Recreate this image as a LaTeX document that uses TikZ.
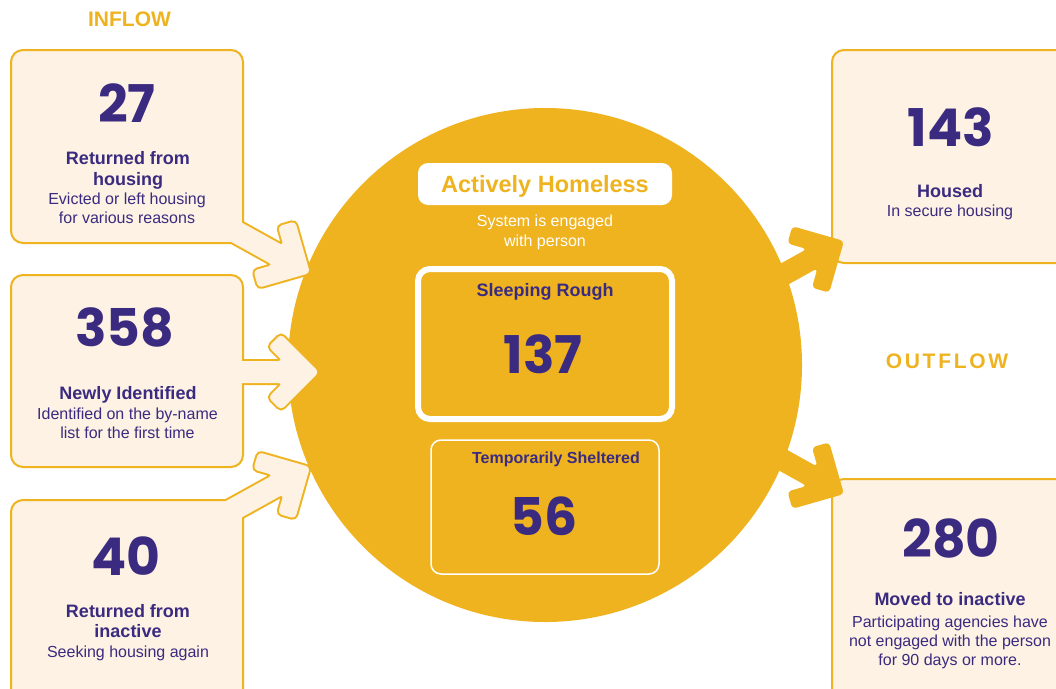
\documentclass[tikz,border=0pt]{standalone}
\usepackage{fontspec}
\setmainfont{Liberation Sans}
\newfontfamily\numfont{Poppins}
\newfontfamily\outfont{Liberation Sans}[LetterSpace=13]
\definecolor{yel}{RGB}{239,179,31}
\definecolor{cream}{RGB}{253,242,227}
\definecolor{purp}{RGB}{58,43,128}
\newcommand\chevarrow[3]{\path[#3, shift={(#1)}, rotate=#2, rounded corners=4pt]
  (-110,11) -- (-36.4,11) -- (-50.7,25.3) -- (-38,38) -- (0,0) -- (-38,-38)
  -- (-50.7,-25.3) -- (-36.4,-11) -- (-110,-11) -- cycle;}
\begin{document}
\begin{tikzpicture}[x=1pt,y=-1pt,
  txt/.style={inner sep=0pt, anchor=base, text=purp},
  num/.style={txt, font=\numfont\bfseries\fontsize{52}{52}\selectfont},
  ttl/.style={txt, font=\bfseries\fontsize{18}{18}\selectfont},
  dsc/.style={txt, font=\fontsize{16}{16}\selectfont},
  flow/.style={inner sep=0pt, anchor=base, text=yel, font=\bfseries\fontsize{21}{21}\selectfont},
  wtxt/.style={inner sep=0pt, anchor=base, text=white, font=\fontsize{16}{16}\selectfont},
  sidebox/.style={fill=cream, draw=yel, line width=2pt, rounded corners=12pt},
  inarrow/.style={fill=cream, draw=yel, line width=4pt},
  inarrowfill/.style={fill=cream},
  outarrow/.style={fill=yel},
]
\useasboundingbox (0,0) rectangle (1056,688);
\clip (0,0) rectangle (1056,688);
\fill[white] (0,0) rectangle (1056,688);

% central circle
\fill[yel] (545,365) circle[radius=257pt];

% arrow tips
\coordinate (tipA1) at (310,273);
\coordinate (tipA2) at (319,372);
\coordinate (tipA3) at (310,467);
\coordinate (tipO1) at (844,241);
\coordinate (tipO2) at (844,494);

% inflow arrows (outline)
\chevarrow{tipA1}{-29}{inarrow}
\chevarrow{tipA2}{0}{inarrow}
\chevarrow{tipA3}{29}{inarrow}

% inflow boxes
\path[sidebox] (11,50) rectangle (243,243);
\path[sidebox] (11,275) rectangle (243,467);
\path[sidebox] (11,500) rectangle (243,712);

% merge arrows with boxes
\chevarrow{tipA1}{-29}{inarrowfill}
\chevarrow{tipA2}{0}{inarrowfill}
\chevarrow{tipA3}{29}{inarrowfill}

% outflow boxes
\path[sidebox] (832,50) rectangle (1072,263);
\path[sidebox] (832,479) rectangle (1072,712);

% outflow arrows
\chevarrow{tipO1}{29}{outarrow}
\chevarrow{tipO2}{-29}{outarrow}

% headings
\node[flow] (inflow) at (129.5,27) {INFLOW};
\node[flow, font=\outfont\bfseries\fontsize{21}{21}\selectfont] (outflow) at (947,368) {OUTFLOW};

% box 1
\node[num] (n27) at (127,122) {27};
\node[ttl] (t1a) at (128,164) {Returned from};
\node[ttl] (t1b) at (128,185) {housing};
\node[dsc] (d1a) at (127,204) {Evicted or left housing};
\node[dsc] (d1b) at (127,223) {for various reasons};

% box 2
\node[num] (n358) at (125,346) {358};
\node[ttl] (t2) at (128,399) {Newly Identified};
\node[dsc] (d2a) at (127.5,419) {Identified on the by-name};
\node[dsc] (d2b) at (127.5,438) {list for the first time};

% box 3
\node[num] (n40) at (126,575) {40};
\node[ttl] (t3a) at (128,617) {Returned from};
\node[ttl] (t3b) at (128,637) {inactive};
\node[dsc] (d3) at (128,657) {Seeking housing again};

% housed
\node[num] (n143) at (951,146) {143};
\node[ttl] (t4) at (950,197) {Housed};
\node[dsc] (d4) at (950,216) {In secure housing};

% moved to inactive
\node[num] (n280) at (951,557) {280};
\node[ttl] (t5) at (950,605) {Moved to inactive};
\node[dsc] (d5a) at (950,627) {Participating agencies have};
\node[dsc] (d5b) at (950,646) {not engaged with the person};
\node[dsc] (d5c) at (950,665) {for 90 days or more.};

% centre
\node[fill=white, rounded corners=10pt, minimum width=254pt, minimum height=42pt, inner sep=0pt] (ahbox) at (545,184) {};
\node[inner sep=0pt, anchor=base, text=yel, font=\bfseries\fontsize{23.5}{23.5}\selectfont] (ah) at (545,192) {Actively Homeless};
\node[wtxt] (sys1) at (545,226) {System is engaged};
\node[wtxt] (sys2) at (545,246) {with person};

\draw[white, line width=6pt, rounded corners=12pt] (418,269) rectangle (672,419);
\node[ttl] (sr) at (545,296) {Sleeping Rough};
\node[num] (n137) at (543,373) {137};

\draw[white, line width=1.5pt, rounded corners=10pt] (431,440) rectangle (659,574);
\node[ttl, font=\bfseries\fontsize{16}{16}\selectfont] (ts) at (556,463) {Temporarily Sheltered};
\node[num] (n56) at (544,535) {56};
\end{tikzpicture}
\end{document}
